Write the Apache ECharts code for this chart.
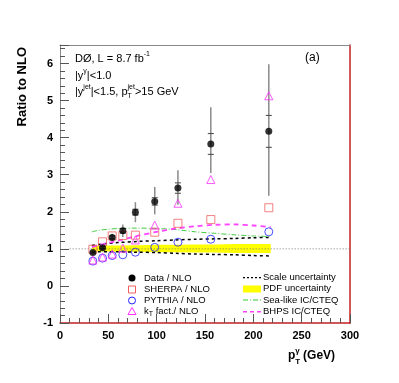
<!DOCTYPE html>
<html>
<head>
<meta charset="utf-8">
<script src="https://cdn.jsdelivr.net/npm/echarts/dist/echarts.min.js"></script>
<style>
  html, body { margin: 0; padding: 0; background: #fff; }
  #main { width: 399px; height: 383px; }
</style>
</head>
<body>
<div id="main"></div>
<script>
// photon pT bins (GeV) and ratios to NLO
const ptBins    = [34, 44, 54, 65, 78, 98, 122, 156, 216];
const dataNlo   = [0.90, 1.03, 1.31, 1.49, 1.99, 2.28, 2.64, 3.83, 4.17];
const dataErrUp = [0.06, 0.07, 0.10, 0.17, 0.27, 0.39, 0.48, 0.99, 1.81];
const dataErrDn = [0.06, 0.07, 0.10, 0.17, 0.27, 0.35, 0.45, 0.78, 1.74];
const dataStat  = [0.02, 0.03, 0.04, 0.06, 0.08, 0.10, 0.14, 0.28, 0.43];
const sherpaNlo = [0.99, 1.19, 1.35, 1.36, 1.37, 1.45, 1.69, 1.79, 2.11];
const pythiaNlo = [0.67, 0.75, 0.82, 0.84, 0.91, 1.04, 1.18, 1.26, 1.46];
const ktNlo     = [0.70, 0.78, 0.86, 1.02, 1.24, 1.64, 2.23, 2.87, 5.13];

// theory curves
const thPt    = [33, 40, 50, 60, 80, 100, 120, 140, 160, 180, 200, 218];
const scaleUp = [1.09, 1.12, 1.15, 1.17, 1.20, 1.22, 1.24, 1.26, 1.27, 1.28, 1.30, 1.31];
const scaleDn = [0.91, 0.92, 0.92, 0.92, 0.91, 0.90, 0.88, 0.86, 0.85, 0.84, 0.82, 0.81];
const pdfUp   = [1.08, 1.08, 1.09, 1.09, 1.10, 1.11, 1.11, 1.12, 1.12, 1.13, 1.13, 1.13];
const pdfDn   = [0.93, 0.93, 0.93, 0.92, 0.92, 0.91, 0.91, 0.90, 0.90, 0.89, 0.89, 0.89];
const seaIC   = [1.46, 1.50, 1.53, 1.55, 1.56, 1.55, 1.52, 1.46, 1.42, 1.38, 1.35, 1.33];
const bhpsIC  = [1.05, 1.10, 1.16, 1.22, 1.35, 1.46, 1.55, 1.61, 1.65, 1.66, 1.63, 1.59];
const unityX  = [10, 300];

const FONT = "'Liberation Sans', Arial, sans-serif";
const TICKFONT = "'Liberation Sans Narrow', 'Liberation Sans', Arial, sans-serif";

const pairs = (xs, ys) => xs.map((x, i) => [x, ys[i]]);

// measure text to lay out super/subscripts
const mctx = document.createElement('canvas').getContext('2d');
function textRun(x, y, segs, size, weight) {
  weight = weight || 'normal';
  let cx = x;
  const out = [];
  segs.forEach(s => {
    const fs = s.size || size;
    const font = weight + ' ' + fs + 'px ' + FONT;
    mctx.font = font;
    const w = mctx.measureText(s.t).width;
    out.push({
      type: 'text', x: cx, y: y + (s.dy || 0), silent: true, z: 100,
      style: { text: s.t, font: font, fill: '#000', textAlign: 'left', textVerticalAlign: 'middle' }
    });
    if (!s.hold) cx += w;
  });
  return out;
}

const chart = echarts.init(document.getElementById('main'), null, { renderer: 'canvas' });

const graphics = [];
// annotations
graphics.push(...textRun(75, 59, [{ t: 'DØ, L = 8.7 fb' }, { t: '-1', size: 7, dy: -5 }], 11));
graphics.push(...textRun(75, 75.5, [{ t: '|y' }, { t: 'γ', size: 7, dy: -4 }, { t: '|<1.0' }], 11));
graphics.push(...textRun(75, 91.5, [
  { t: '|y' }, { t: 'jet', size: 7, dy: -4 }, { t: '|<1.5, p' },
  { t: 'T', size: 7, dy: 5, hold: true }, { t: 'jet', size: 7, dy: -4 }, { t: '>15 GeV' }
], 11));
graphics.push({
  type: 'text', x: 305, y: 58, silent: true,
  style: { text: '(a)', font: '12px ' + FONT, fill: '#000', textAlign: 'left', textVerticalAlign: 'middle' }
});
// axis titles
graphics.push({
  type: 'text', x: 22, y: 47, rotation: Math.PI / 2, silent: true,
  style: { text: 'Ratio to NLO', font: 'bold 13px ' + FONT, fill: '#000', textAlign: 'right', textVerticalAlign: 'middle' }
});
graphics.push(...textRun(288, 356, [
  { t: 'p' }, { t: 'T', size: 8, dy: 6, hold: true }, { t: 'γ', size: 8, dy: -5 }, { t: ' (GeV)' }
], 12, 'bold'));

// legend, left column (markers)
graphics.push({ type: 'circle', shape: { cx: 132, cy: 278, r: 3.5 }, style: { fill: '#000' }, silent: true });
graphics.push({ type: 'rect', shape: { x: 128.5, y: 286, width: 7, height: 7 }, style: { fill: '#fff', stroke: '#f06060', lineWidth: 1 }, silent: true });
graphics.push({ type: 'circle', shape: { cx: 132, cy: 300.5, r: 3.5 }, style: { fill: '#fff', stroke: '#2020ff', lineWidth: 1 }, silent: true });
graphics.push({ type: 'polygon', shape: { points: [[132, 307.5], [128, 314.5], [136, 314.5]] }, style: { fill: '#fff', stroke: '#ff30ff', lineWidth: 1 }, silent: true });
[['Data / NLO', 278], ['SHERPA / NLO', 289.5], ['PYTHIA / NLO', 300.5]]
  .forEach(l => graphics.push(...textRun(144, l[1], [{ t: l[0] }], 9.5)));
graphics.push(...textRun(144, 311.5, [{ t: 'k' }, { t: 'T', size: 7, dy: 3 }, { t: ' fact./ NLO' }], 9.5));

// legend, right column (curves)
graphics.push({ type: 'line', shape: { x1: 243, y1: 277.7, x2: 262, y2: 277.7 }, style: { stroke: '#000', lineWidth: 1.2, lineDash: [2, 2] }, silent: true });
graphics.push({ type: 'rect', shape: { x: 243, y: 285.5, width: 18, height: 7 }, style: { fill: '#ffff00' }, silent: true });
graphics.push({ type: 'line', shape: { x1: 243, y1: 300, x2: 262, y2: 300 }, style: { stroke: '#33cc33', lineWidth: 1, lineDash: [5, 2, 1, 2] }, silent: true });
graphics.push({ type: 'line', shape: { x1: 243, y1: 311.7, x2: 262, y2: 311.7 }, style: { stroke: '#ff44ff', lineWidth: 1.5, lineDash: [4, 3] }, silent: true });
[['Scale uncertainty', 277.7], ['PDF uncertainty', 288.7], ['Sea-like IC/CTEQ', 300], ['BHPS IC/CTEQ', 311.7]]
  .forEach(l => graphics.push(...textRun(263, l[1], [{ t: l[0] }], 9.5)));

const tickStyle = { color: '#555', width: 1 };

const option = {
  animation: false,
  backgroundColor: '#fff',
  grid: { left: 60, top: 45, right: 49, bottom: 60 },
  xAxis: [
    {
      type: 'value', min: 0, max: 300, interval: 50, position: 'bottom',
      axisLine: { onZero: false, lineStyle: { color: '#c02020', width: 1.5 } },
      axisTick: { inside: true, length: 9, lineStyle: tickStyle },
      minorTick: { show: true, splitNumber: 5, length: 5, lineStyle: tickStyle },
      axisLabel: { margin: 7, fontFamily: TICKFONT, fontWeight: 'bold', fontSize: 11, color: '#000' },
      splitLine: { show: false }
    },
    {
      type: 'value', min: 0, max: 300, position: 'top',
      axisLine: { onZero: false, lineStyle: { color: '#888', width: 1 } },
      axisTick: { show: false }, axisLabel: { show: false }, splitLine: { show: false }
    }
  ],
  yAxis: [
    {
      type: 'value', min: -1, max: 6.5, interval: 1, position: 'left',
      axisLine: { onZero: false, lineStyle: { color: '#888', width: 1 } },
      axisTick: { inside: true, length: 9, lineStyle: tickStyle },
      minorTick: { show: true, splitNumber: 5, length: 5, lineStyle: tickStyle },
      axisLabel: {
        margin: 7, fontFamily: TICKFONT, fontWeight: 'bold', fontSize: 11, color: '#000',
        formatter: v => (Number.isInteger(v) ? String(v) : '')
      },
      splitLine: { show: false }
    },
    {
      type: 'value', min: -1, max: 6.5, position: 'right',
      axisLine: { onZero: false, lineStyle: { color: '#c02020', width: 1.5 } },
      axisTick: { show: false }, axisLabel: { show: false }, splitLine: { show: false }
    }
  ],
  series: [
    {
      name: 'PDF uncertainty', type: 'custom', z: 1,
      data: thPt.map((x, i) => [x, pdfDn[i], pdfUp[i]]),
      encode: { x: 0, y: [1, 2] },
      renderItem: (params, api) => {
        if (params.dataIndex !== 0) return null;
        const up = thPt.map((x, i) => api.coord([x, pdfUp[i]]));
        const dn = thPt.map((x, i) => api.coord([x, pdfDn[i]])).reverse();
        return { type: 'polygon', shape: { points: up.concat(dn) }, style: { fill: '#ffff00' } };
      }
    },
    {
      name: 'unity', type: 'line', z: 2, data: unityX.map(x => [x, 1]), symbol: 'none',
      lineStyle: { color: '#777', width: 1, type: [1, 2] }
    },
    {
      name: 'Scale up', type: 'line', z: 3, data: pairs(thPt, scaleUp), symbol: 'none', smooth: 0.3,
      lineStyle: { color: '#000', width: 1.5, type: [3, 3] }
    },
    {
      name: 'Scale down', type: 'line', z: 3, data: pairs(thPt, scaleDn), symbol: 'none', smooth: 0.3,
      lineStyle: { color: '#000', width: 1.5, type: [3, 3] }
    },
    {
      name: 'Sea-like IC/CTEQ', type: 'line', z: 3, data: pairs(thPt, seaIC), symbol: 'none', smooth: 0.3,
      lineStyle: { color: '#44cc44', width: 1, type: [5, 2, 1, 2] }
    },
    {
      name: 'BHPS IC/CTEQ', type: 'line', z: 3, data: pairs(thPt, bhpsIC), symbol: 'none', smooth: 0.3,
      lineStyle: { color: '#ff44ff', width: 1.8, type: [5, 4] }
    },
    {
      name: 'Data errors', type: 'custom', z: 4,
      data: ptBins.map((x, i) => [x, dataNlo[i], dataErrUp[i], dataErrDn[i], dataStat[i]]),
      encode: { x: 0, y: 1 },
      renderItem: (params, api) => {
        const x = api.value(0), y = api.value(1);
        const top = api.coord([x, y + api.value(2)]);
        const bot = api.coord([x, y - api.value(3)]);
        const st = api.coord([x, y + api.value(4)]);
        const sb = api.coord([x, y - api.value(4)]);
        return {
          type: 'group', children: [
            { type: 'line', shape: { x1: top[0], y1: top[1], x2: bot[0], y2: bot[1] }, style: { stroke: '#8a8a8a', lineWidth: 1.5 } },
            { type: 'line', shape: { x1: st[0] - 3, y1: st[1], x2: st[0] + 3, y2: st[1] }, style: { stroke: '#444', lineWidth: 1 } },
            { type: 'line', shape: { x1: sb[0] - 3, y1: sb[1], x2: sb[0] + 3, y2: sb[1] }, style: { stroke: '#444', lineWidth: 1 } }
          ]
        };
      }
    },
    {
      name: 'SHERPA / NLO', type: 'scatter', z: 5, data: pairs(ptBins, sherpaNlo),
      symbol: 'rect', symbolSize: 8,
      itemStyle: { color: 'rgba(255,255,255,0)', borderColor: '#f06060', borderWidth: 1 }
    },
    {
      name: 'PYTHIA / NLO', type: 'scatter', z: 5, data: pairs(ptBins, pythiaNlo),
      symbol: 'circle', symbolSize: 8,
      itemStyle: { color: 'rgba(255,255,255,0)', borderColor: '#2020ff', borderWidth: 1 }
    },
    {
      name: 'kT fact./ NLO', type: 'scatter', z: 5, data: pairs(ptBins, ktNlo),
      symbol: 'triangle', symbolSize: 8,
      itemStyle: { color: 'rgba(255,255,255,0)', borderColor: '#ff30ff', borderWidth: 1 }
    },
    {
      name: 'Data / NLO', type: 'scatter', z: 6, data: pairs(ptBins, dataNlo),
      symbol: 'circle', symbolSize: 7,
      itemStyle: { color: '#000' }
    }
  ],
  graphic: graphics
};

chart.setOption(option);
</script>
</body>
</html>
